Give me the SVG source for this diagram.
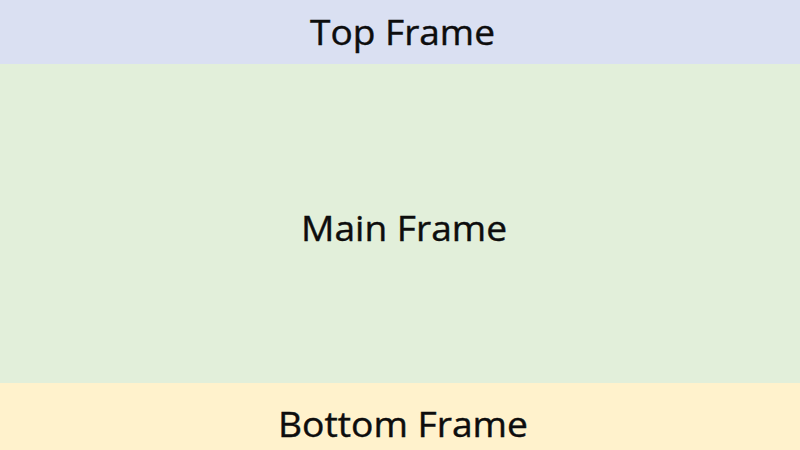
<svg xmlns="http://www.w3.org/2000/svg" width="800" height="450" viewBox="0 0 800 450">
<style>
.lbl{font-family:"Open Sans","Noto Sans",sans-serif;font-size:35px;fill:#0d0d0d;stroke:#0d0d0d;stroke-width:0.4;text-anchor:middle}
</style>
<g id="top-frame"><rect x="0" y="0" width="800" height="64" fill="#dae0f2"/><text class="lbl" x="402.5" y="45" textLength="185" lengthAdjust="spacingAndGlyphs">Top Frame</text></g>
<g id="main-frame"><rect x="0" y="64" width="800" height="319" fill="#e2efda"/><text class="lbl" x="404" y="241" textLength="206" lengthAdjust="spacingAndGlyphs">Main Frame</text></g>
<g id="bottom-frame"><rect x="0" y="383" width="800" height="67" fill="#fff2cc"/><text class="lbl" x="403" y="437" textLength="250" lengthAdjust="spacingAndGlyphs">Bottom Frame</text></g>
</svg>
